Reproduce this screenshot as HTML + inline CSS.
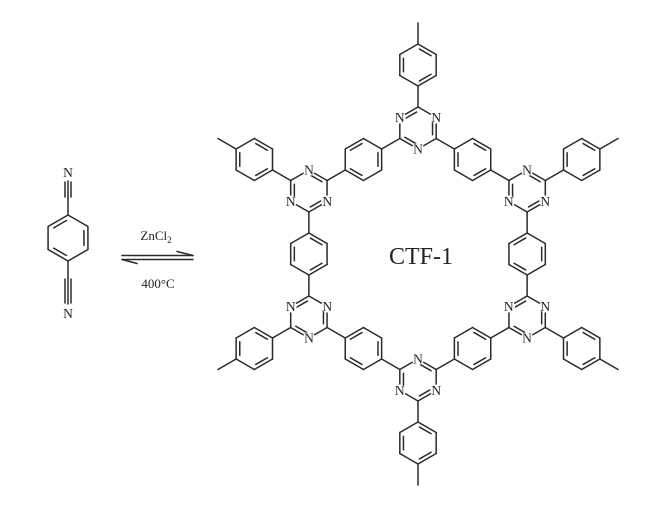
<!DOCTYPE html>
<html><head><meta charset="utf-8"><style>
html,body{margin:0;padding:0;background:#fff;}
svg{display:block;}
text{font-family:"Liberation Serif",serif;fill:#222;}
</style></head><body>
<svg id="s" width="646" height="512" viewBox="0 0 646 512" xmlns="http://www.w3.org/2000/svg">
<g id="bonds" stroke="#2a2a2a" stroke-width="1.5" fill="none" stroke-linecap="round"></g>
<g id="masks" fill="#fff"></g>
<g font-size="13.5" text-anchor="middle">
<text x="399.8" y="122.2">N</text><text x="436.2" y="122.2">N</text><text x="418" y="153.7">N</text>
<text x="290.8" y="206.2">N</text><text x="309" y="174.7">N</text><text x="327.2" y="206.2">N</text>
<text x="309" y="342.7">N</text><text x="290.8" y="311.2">N</text><text x="327.2" y="311.2">N</text>
<text x="436.2" y="395.2">N</text><text x="399.8" y="395.2">N</text><text x="418" y="363.7">N</text>
<text x="545.2" y="311.2">N</text><text x="527" y="342.7">N</text><text x="508.8" y="311.2">N</text>
<text x="527" y="174.7">N</text><text x="545.2" y="206.2">N</text><text x="508.8" y="206.2">N</text>
<text x="68" y="177">N</text><text x="68" y="318">N</text>
</g>
<g font-size="13" text-anchor="middle">
<text x="156" y="240">ZnCl<tspan font-size="9" dy="3">2</tspan></text>
<text x="158" y="288">400°C</text>
</g>
<text x="421" y="264" font-size="24" text-anchor="middle">CTF-1</text>
</svg>
<script>
(function(){
var B=document.getElementById('bonds'),M=document.getElementById('masks');
function L(x1,y1,x2,y2){var l=document.createElementNS('http://www.w3.org/2000/svg','line');
l.setAttribute('x1',x1);l.setAttribute('y1',y1);l.setAttribute('x2',x2);l.setAttribute('y2',y2);B.appendChild(l);}
function C(x,y){var c=document.createElementNS('http://www.w3.org/2000/svg','circle');
c.setAttribute('cx',x);c.setAttribute('cy',y);c.setAttribute('r',6);M.appendChild(c);}
function V(cx,cy,r,a){a=a*Math.PI/180;return [cx+r*Math.cos(a),cy-r*Math.sin(a)];}
function hex(cx,cy,r,start){
  for(var k=0;k<6;k++){var a=90+60*k,p=V(cx,cy,r,a),q=V(cx,cy,r,a+60);L(p[0],p[1],q[0],q[1]);
    if((k+start)%2==0){var p2=V(cx,cy,r*0.8,a),q2=V(cx,cy,r*0.8,a+60);
      var dx=q2[0]-p2[0],dy=q2[1]-p2[1];L(p2[0]+dx*0.1,p2[1]+dy*0.1,q2[0]-dx*0.1,q2[1]-dy*0.1);}}
}
var cx=418,cy=254,R=126,r=21;
var tri=[];
for(var i=0;i<6;i++){var th=90+60*i;var c=V(cx,cy,R,th);tri.push([c[0],c[1],th]);}
tri.forEach(function(t,i){
  hex(t[0],t[1],r,i%2);
  [60,-60,180].forEach(function(o){var p=V(t[0],t[1],r,t[2]+o);C(p[0],p[1]);});
  var a=t[2];var p1=V(t[0],t[1],21,a),p2=V(t[0],t[1],42,a);L(p1[0],p1[1],p2[0],p2[1]);
  var pc=V(t[0],t[1],63,a);hex(pc[0],pc[1],r,1);
  var m1=V(t[0],t[1],84,a),m2=V(t[0],t[1],105,a);L(m1[0],m1[1],m2[0],m2[1]);
  var n=tri[(i+1)%6]||V(cx,cy,R,90+60*(i+1));
  var nx=n[0],ny=n[1],dx=(nx-t[0])/126,dy=(ny-t[1])/126;
  var mx=(t[0]+nx)/2,my=(t[1]+ny)/2;hex(mx,my,r,i%2);
  L(t[0]+dx*21,t[1]+dy*21,t[0]+dx*42,t[1]+dy*42);
  L(nx-dx*21,ny-dy*21,nx-dx*42,ny-dy*42);
});
hex(68,238,23,0);
L(68,215,68,198);L(68,261,68,278);
L(68,198,68,181);L(65,197,65,182);L(71,197,71,182);
L(68,278,68,304);L(65,279,65,303);L(71,279,71,303);
L(122,255.5,193,255.5);L(193,255.5,177,251.5);
L(122,259.5,193,259.5);L(122,259.5,137,263.5);
})();
</script>
</body></html>
